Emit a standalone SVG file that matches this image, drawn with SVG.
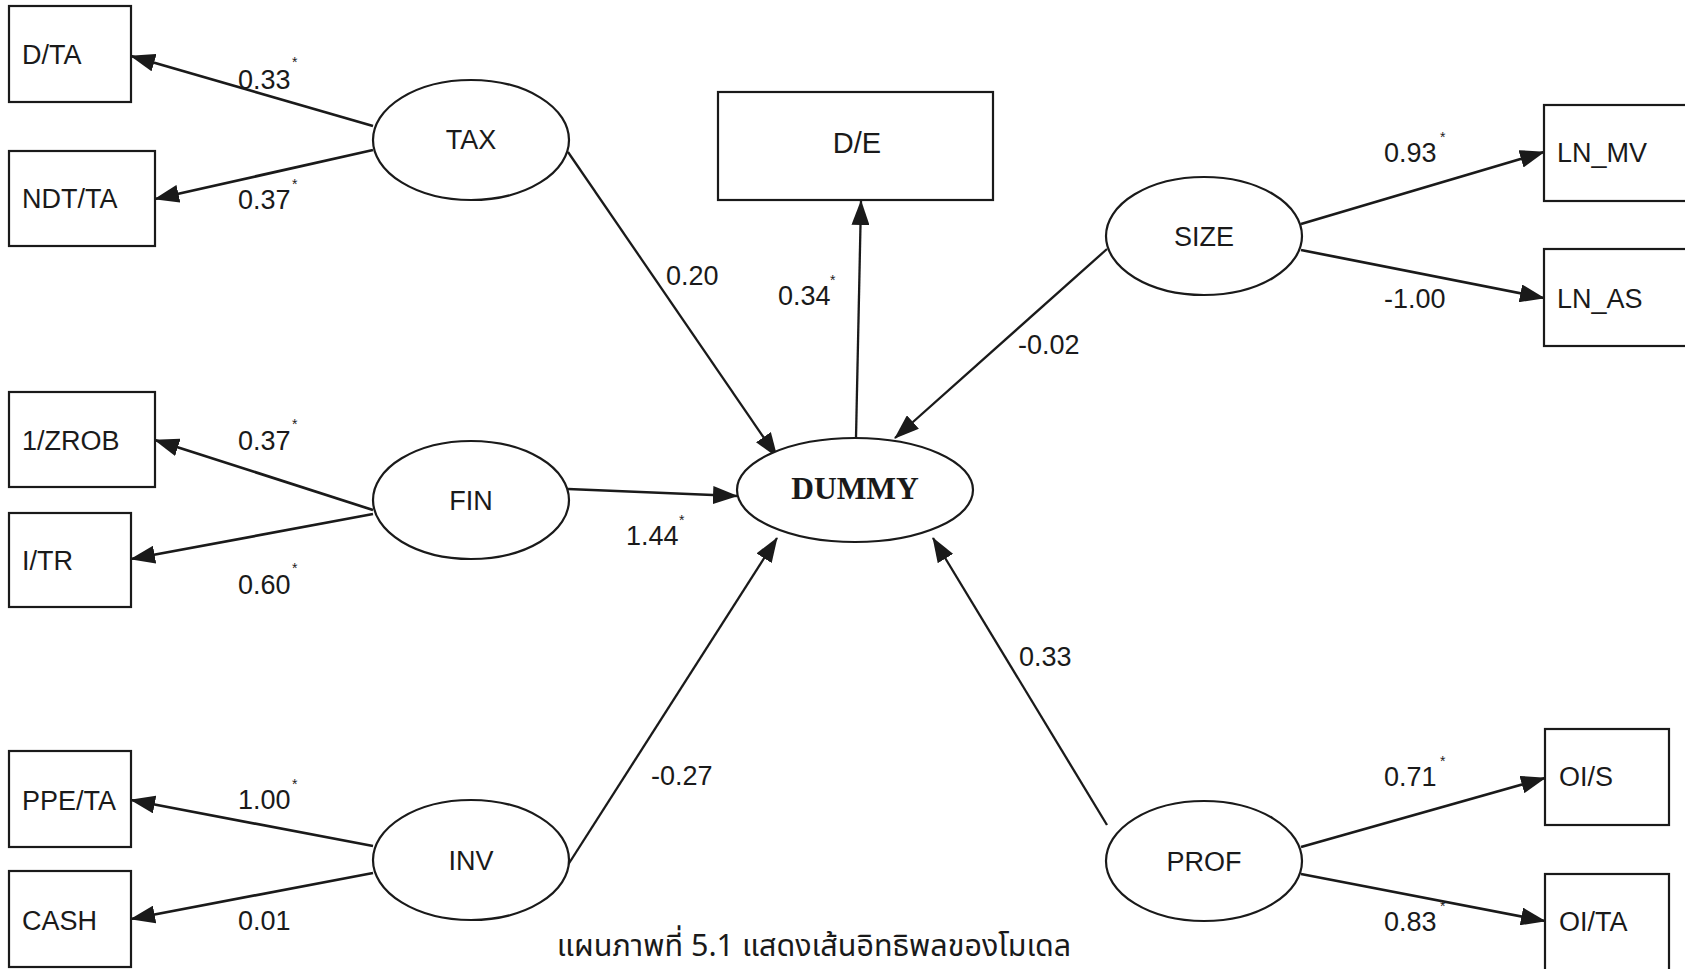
<svg xmlns="http://www.w3.org/2000/svg" width="1685" height="969" viewBox="0 0 1685 969">
<style>
.box{fill:#fff;stroke:#1a1a1a;stroke-width:2.2}
.ell{fill:#fff;stroke:#1a1a1a;stroke-width:2.2}
.t{font-family:"Liberation Sans",Arial,sans-serif;font-size:27px;fill:#1a1a1a}
.tc{font-family:"Liberation Sans",Arial,sans-serif;font-size:27px;fill:#1a1a1a;text-anchor:middle}
.lbl{font-family:"Liberation Sans",Arial,sans-serif;font-size:27px;fill:#1a1a1a}
.ast{font-family:"Liberation Sans",Arial,sans-serif;font-size:14px;fill:#1a1a1a}
.cn{fill:none;stroke:#1a1a1a;stroke-width:2.7}
.cs{fill:none;stroke:#1a1a1a;stroke-width:2.3}
</style>
<defs>
<marker id="ah" markerUnits="userSpaceOnUse" markerWidth="25" markerHeight="18" refX="24" refY="9" orient="auto">
<path d="M0,0 L25,9 L0,18 z" fill="#1a1a1a"/>
</marker>
</defs>
<rect width="1685" height="969" fill="#fff"/>
<g id="connectors">
<line class="cn" x1="373" y1="126" x2="131" y2="56" marker-end="url(#ah)"/>
<line class="cn" x1="373" y1="150" x2="155" y2="199" marker-end="url(#ah)"/>
<line class="cs" x1="568" y1="152" x2="777" y2="457" marker-end="url(#ah)"/>
<line class="cs" x1="856" y1="438" x2="861" y2="201" marker-end="url(#ah)"/>
<line class="cs" x1="1107" y1="249" x2="895" y2="438" marker-end="url(#ah)"/>
<line class="cn" x1="1301" y1="224" x2="1544" y2="152" marker-end="url(#ah)"/>
<line class="cn" x1="1301" y1="250" x2="1544" y2="298" marker-end="url(#ah)"/>
<line class="cn" x1="373" y1="510" x2="155" y2="440" marker-end="url(#ah)"/>
<line class="cn" x1="373" y1="514" x2="131" y2="559" marker-end="url(#ah)"/>
<line class="cs" x1="568" y1="489" x2="737" y2="496" marker-end="url(#ah)"/>
<line class="cn" x1="373" y1="846" x2="131" y2="800" marker-end="url(#ah)"/>
<line class="cn" x1="373" y1="873" x2="131" y2="919" marker-end="url(#ah)"/>
<line class="cs" x1="566" y1="868" x2="777" y2="538" marker-end="url(#ah)"/>
<line class="cs" x1="1107" y1="825" x2="933" y2="538" marker-end="url(#ah)"/>
<line class="cn" x1="1301" y1="847" x2="1545" y2="778" marker-end="url(#ah)"/>
<line class="cn" x1="1301" y1="874" x2="1545" y2="921" marker-end="url(#ah)"/>
</g>
<g id="labels">
<text class="lbl" x="238" y="89">0.33</text><text class="ast" x="292" y="67">*</text>
<text class="lbl" x="238" y="209">0.37</text><text class="ast" x="292" y="189">*</text>
<text class="lbl" x="666" y="285">0.20</text>
<text class="lbl" x="778" y="305">0.34</text><text class="ast" x="830" y="285">*</text>
<text class="lbl" x="1018" y="354">-0.02</text>
<text class="lbl" x="1384" y="162">0.93</text><text class="ast" x="1440" y="142">*</text>
<text class="lbl" x="1384" y="308">-1.00</text>
<text class="lbl" x="238" y="450">0.37</text><text class="ast" x="292" y="429">*</text>
<text class="lbl" x="626" y="545">1.44</text><text class="ast" x="679" y="525">*</text>
<text class="lbl" x="238" y="594">0.60</text><text class="ast" x="292" y="573">*</text>
<text class="lbl" x="651" y="785">-0.27</text>
<text class="lbl" x="1019" y="666">0.33</text>
<text class="lbl" x="238" y="809">1.00</text><text class="ast" x="292" y="789">*</text>
<text class="lbl" x="238" y="930">0.01</text>
<text class="lbl" x="1384" y="786">0.71</text><text class="ast" x="1440" y="766">*</text>
<text class="lbl" x="1384" y="931">0.83</text><text class="ast" x="1440" y="911">*</text>
</g>
<g id="node-DTA"><rect class="box" x="9" y="6" width="122" height="96"/><text class="t" x="22" y="64">D/TA</text></g>
<g id="node-NDTTA"><rect class="box" x="9" y="151" width="146" height="95"/><text class="t" x="22" y="208">NDT/TA</text></g>
<g id="node-1ZROB"><rect class="box" x="9" y="392" width="146" height="95"/><text class="t" x="22" y="450">1/ZROB</text></g>
<g id="node-ITR"><rect class="box" x="9" y="513" width="122" height="94"/><text class="t" x="22" y="570">I/TR</text></g>
<g id="node-PPETA"><rect class="box" x="9" y="751" width="122" height="96"/><text class="t" x="22" y="810">PPE/TA</text></g>
<g id="node-CASH"><rect class="box" x="9" y="871" width="122" height="96"/><text class="t" x="22" y="930">CASH</text></g>
<g id="node-DE"><rect class="box" x="718" y="92" width="275" height="108"/><text class="tc" x="857" y="153" style="font-size:29px">D/E</text></g>
<g id="node-LNMV"><rect class="box" x="1544" y="105" width="150" height="96"/><text class="t" x="1557" y="162">LN_MV</text></g>
<g id="node-LNAS"><rect class="box" x="1544" y="249" width="150" height="97"/><text class="t" x="1557" y="308">LN_AS</text></g>
<g id="node-OIS"><rect class="box" x="1545" y="729" width="124" height="96"/><text class="t" x="1559" y="786">OI/S</text></g>
<g id="node-OITA"><rect class="box" x="1545" y="874" width="124" height="100"/><text class="t" x="1559" y="931">OI/TA</text></g>
<g id="node-TAX"><ellipse class="ell" cx="471" cy="140" rx="98" ry="60"/><text class="tc" x="471" y="149">TAX</text></g>
<g id="node-FIN"><ellipse class="ell" cx="471" cy="500" rx="98" ry="59"/><text class="tc" x="471" y="510">FIN</text></g>
<g id="node-INV"><ellipse class="ell" cx="471" cy="860" rx="98" ry="60"/><text class="tc" x="471" y="870">INV</text></g>
<g id="node-SIZE"><ellipse class="ell" cx="1204" cy="236" rx="98" ry="59"/><text class="tc" x="1204" y="246">SIZE</text></g>
<g id="node-PROF"><ellipse class="ell" cx="1204" cy="861" rx="98" ry="60"/><text class="tc" x="1204" y="871">PROF</text></g>
<g id="node-DUMMY"><ellipse class="ell" cx="855" cy="490" rx="118" ry="52"/><text x="855" y="499" text-anchor="middle" style="font-family:'Liberation Serif','Times New Roman',serif;font-size:31.5px;font-weight:bold;fill:#1a1a1a">DUMMY</text></g>
<g id="caption"><text x="814" y="956" text-anchor="middle" style="font-family:'Noto Sans Thai','Liberation Sans','DejaVu Sans',sans-serif;font-size:30.5px;fill:#1a1a1a">แผนภาพที่ 5.1 แสดงเส้นอิทธิพลของโมเดล</text></g>
</svg>
